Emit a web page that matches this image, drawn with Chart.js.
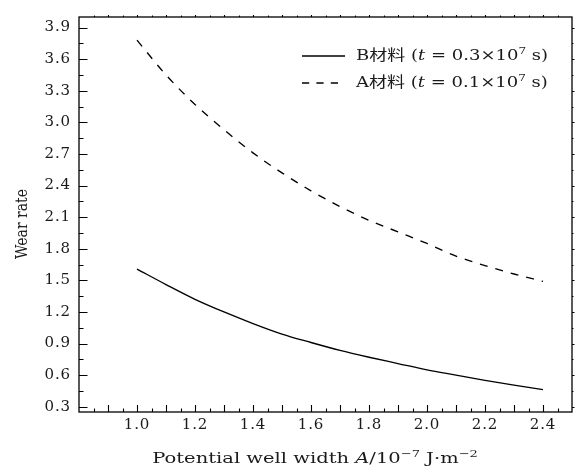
<!DOCTYPE html>
<html>
<head>
<meta charset="utf-8">
<script src="https://cdn.jsdelivr.net/npm/chart.js@4/dist/chart.umd.min.js"></script>
<style>
  html, body { margin: 0; padding: 0; background: #fff; }
  #wrap { position: relative; width: 578px; height: 468px; }
  #c { position: absolute; left: 0; top: 0; }
  .serif { font-family: "DejaVu Serif", "Noto Sans CJK SC", serif; color: #1a1a1a; }
  #legend { position: absolute; left: 302px; top: 42px; font-size: 15px; line-height: 27px; }
  #legend .row { display: flex; align-items: center; height: 27px; white-space: nowrap; }
  #legend svg { width: 43px; height: 4px; margin-right: 11px; flex: none; }
  #legend .txt { display: inline-block; transform: scaleX(1.2); transform-origin: 0 50%; }
  #legend sup, #xtitle sup { font-size: 10px; vertical-align: 6px; line-height: 0; }
  #xtitle { position: absolute; left: 315px; top: 449px; width: 0; height: 20px; }
  #xtitle span { position: absolute; left: 0; top: 0; transform: translateX(-50%) scaleX(1.3); font-size: 15px; white-space: nowrap; }
  #ytitle { position: absolute; left: 21px; top: 224px; width: 0; height: 0; }
  #ytitle span { position: absolute; transform: translate(-50%, -50%) rotate(-90deg) scaleY(1.25); font-size: 14px; white-space: nowrap; }
</style>
</head>
<body>
<div id="wrap">
  <canvas id="c" width="578" height="468"></canvas>
  <div id="legend" class="serif"></div>
  <div id="xtitle" class="serif"><span>Potential well width <i>A</i>/10<sup>−7</sup> J·m<sup>−2</sup></span></div>
  <div id="ytitle" class="serif"><span id="ytext"></span></div>
</div>
<script>
// ---- data ----
const xValues = [1.0, 1.1, 1.2, 1.3, 1.4, 1.5, 1.6, 1.7, 1.8, 1.9, 2.0, 2.1, 2.2, 2.3, 2.4];
const bValues = [1.607, 1.46, 1.32, 1.20, 1.09, 0.99, 0.91, 0.835, 0.77, 0.71, 0.65, 0.60, 0.55, 0.505, 0.463];
const aValues = [3.78, 3.45, 3.17, 2.93, 2.71, 2.52, 2.35, 2.20, 2.07, 1.96, 1.85, 1.73, 1.64, 1.56, 1.49];
const xTickLabels = [1.0, 1.2, 1.4, 1.6, 1.8, 2.0, 2.2, 2.4];
const yTickLabels = [0.3, 0.6, 0.9, 1.2, 1.5, 1.8, 2.1, 2.4, 2.7, 3.0, 3.3, 3.6, 3.9];
const seriesNames = ['B材料', 'A材料'];
const seriesTimes = ['0.3', '0.1'];
const yTitle = 'Wear rate';

const FONT = '"DejaVu Serif", "Noto Sans CJK SC", serif';
const INK = '#1a1a1a';
const DASH = [8, 8];

function pts(ys) { return xValues.map((x, i) => ({ x: x, y: ys[i] })); }

document.getElementById('ytext').textContent = yTitle;

const spacingPlugin = {
  id: 'spacing',
  beforeDraw(chart) { chart.ctx.letterSpacing = '0.9px'; }
};

// frame + mirrored tick marks drawn from the scales
const framePlugin = {
  id: 'frame',
  afterDraw(chart) {
    const { ctx, chartArea: a, scales: { x, y } } = chart;
    ctx.save();
    ctx.strokeStyle = '#000';
    ctx.lineWidth = 1.3;
    ctx.strokeRect(a.left, a.top, a.right - a.left, a.bottom - a.top);
    ctx.lineWidth = 1.1;
    ctx.beginPath();
    for (let k = 17; k <= 50; k++) {
      const v = k * 0.05;
      if (v <= x.min + 1e-9 || v >= x.max - 1e-9) continue;
      const px = Math.round(x.getPixelForValue(v)) + 0.5;
      const major = k % 2 === 0;
      ctx.moveTo(px, a.bottom); ctx.lineTo(px, a.bottom - (major ? 7 : 3.5));
      ctx.moveTo(px, a.top); ctx.lineTo(px, a.top - (major ? 2 : 1.5));
    }
    for (let k = 2; k <= 26; k++) {
      const v = k * 0.15;
      if (v <= y.min + 1e-9 || v >= y.max - 1e-9) continue;
      const py = Math.round(y.getPixelForValue(v)) + 0.5;
      const major = k % 2 === 0;
      ctx.moveTo(a.left, py); ctx.lineTo(a.left + (major ? 8.5 : 4.5), py);
      ctx.moveTo(a.right, py); ctx.lineTo(a.right + (major ? 2.5 : 1.5), py);
    }
    ctx.stroke();
    ctx.restore();
  }
};

const chart = new Chart(document.getElementById('c'), {
  type: 'scatter',
  data: {
    datasets: [
      { label: seriesNames[0], data: pts(bValues), showLine: true, borderColor: '#000', borderWidth: 1.35,
        pointRadius: 0, cubicInterpolationMode: 'monotone', fill: false },
      { label: seriesNames[1], data: pts(aValues), showLine: true, borderColor: '#000', borderWidth: 1.35,
        borderDash: DASH, pointRadius: 0, cubicInterpolationMode: 'monotone', fill: false }
    ]
  },
  options: {
    responsive: false,
    animation: false,
    devicePixelRatio: 1,
    layout: { padding: { top: 12, right: 6, left: 0, bottom: 0 } },
    plugins: { legend: { display: false }, tooltip: { enabled: false } },
    scales: {
      x: {
        type: 'linear', min: 0.8, max: 2.5,
        grid: { display: false, drawTicks: false },
        border: { display: false },
        afterBuildTicks(s) { s.ticks = xTickLabels.map(v => ({ value: v })); },
        afterFit(s) { s.height = 56; },
        ticks: { color: INK, font: { family: FONT, size: 15 }, padding: 4, maxRotation: 0,
                 callback: v => Number(v).toFixed(1) }
      },
      y: {
        type: 'linear', min: 0.25, max: 4.0,
        grid: { display: false, drawTicks: false },
        border: { display: false },
        afterBuildTicks(s) { s.ticks = yTickLabels.map(v => ({ value: v })); },
        afterFit(s) { s.width = 79; },
        ticks: { color: INK, font: { family: FONT, size: 15 }, padding: 8,
                 callback: v => Number(v).toFixed(1) }
      }
    }
  },
  plugins: [spacingPlugin, framePlugin]
});

// HTML legend (italic t and superscripts), built from the datasets
const legend = document.getElementById('legend');
chart.data.datasets.forEach((ds, i) => {
  const row = document.createElement('div');
  row.className = 'row';
  const dash = ds.borderDash ? ds.borderDash.map(d => d * 0.9).join(' ') : 'none';
  row.innerHTML = '<svg viewBox="0 0 43 4"><line x1="0" y1="2" x2="43" y2="2" stroke="#000" stroke-width="1.3" stroke-dasharray="' + dash + '"/></svg>' +
    '<span class="txt">' + ds.label + ' (<i>t</i> = ' + seriesTimes[i] + '×10<sup>7</sup> s)</span>';
  legend.appendChild(row);
});
</script>
</body>
</html>
